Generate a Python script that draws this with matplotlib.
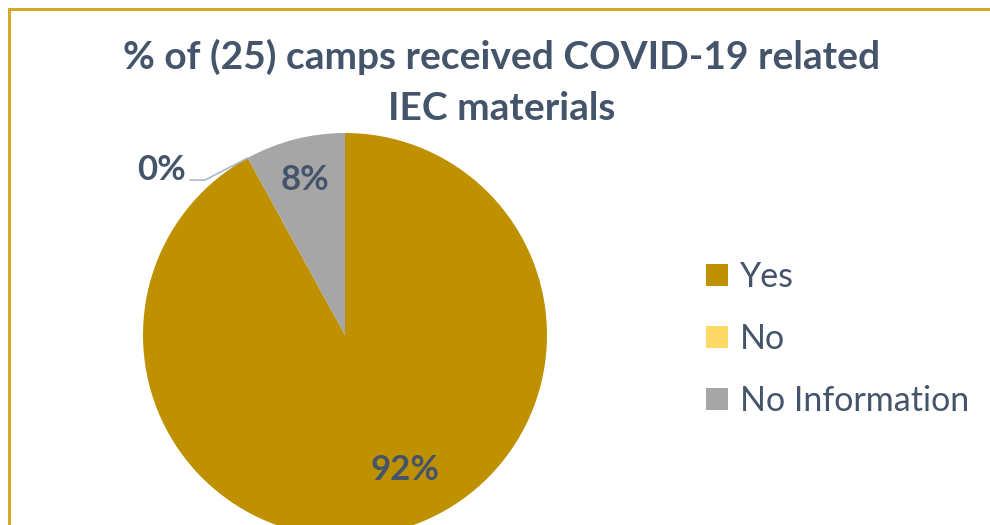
import matplotlib
matplotlib.use("Agg")
import matplotlib.pyplot as plt
import numpy as np
from matplotlib.patches import Rectangle, Patch

categories = ["Yes", "No", "No Information"]
values = [92, 0, 8]
colors = ["#BF9000", "#FFD966", "#A6A6A6"]
title = "% of (25) camps received COVID-19 related\nIEC materials"
text_color = "#44546A"

plt.rcParams['font.family'] = ['Lato', 'DejaVu Sans']

W, H = 990, 525
fig = plt.figure(figsize=(W / 100, H / 100), dpi=100)

# border (chart area, cropped on right/bottom)
fig.patches.append(Rectangle((8.5 / W, -0.1), 1.2, 1 - 8.5 / H + 0.1, transform=fig.transFigure,
                             fill=False, edgecolor="#D4A82A", linewidth=2.2))

fig.text(0.507, 1 - 57 / H, title.split("\n")[0], ha="center", va="center",
         fontsize=28, fontweight="bold", color=text_color)
fig.text(0.507, 1 - 108 / H, title.split("\n")[1], ha="center", va="center",
         fontsize=28, fontweight="bold", color=text_color)

cx, cy, r = 345, 335, 202
ax = fig.add_axes([(cx - r) / W, (H - cy - r) / H, 2 * r / W, 2 * r / H])
wedges, _ = ax.pie(values, colors=colors, startangle=90, counterclock=False,
                   radius=1, wedgeprops=dict(linewidth=0))
ax.set_xlim(-1, 1)
ax.set_ylim(-1, 1)
ax.set_aspect("equal")
ax.axis("off")

# data labels
lab_fs = 25
ax.text(0.297, -0.668, f"{values[0]}%", ha="center", va="center", fontsize=lab_fs,
        fontweight="bold", color=text_color)
ax.text(-0.198, 0.767, f"{values[2]}%", ha="center", va="center", fontsize=lab_fs,
        fontweight="bold", color=text_color)
ax.text(-0.91, 0.815, f"{values[1]}%", ha="center", va="center", fontsize=lab_fs,
        fontweight="bold", color=text_color)
ang = np.deg2rad(90 + 360 * values[2] / 100)
ax.plot([np.cos(ang), -0.693, -0.767], [np.sin(ang), 0.767, 0.767],
        color="#A9B8CC", linewidth=1.2, clip_on=False)

# legend
handles = [Patch(facecolor=c, edgecolor="none") for c in colors]
fig.legend(handles, categories, loc="center left", bbox_to_anchor=(706 / W, 1 - 339 / H),
           frameon=False, fontsize=24.5, labelcolor=text_color, handlelength=0.65,
           handleheight=0.65, handletextpad=0.35, labelspacing=0.88, borderpad=0,
           borderaxespad=0)

fig.savefig("out.png", dpi=100)
